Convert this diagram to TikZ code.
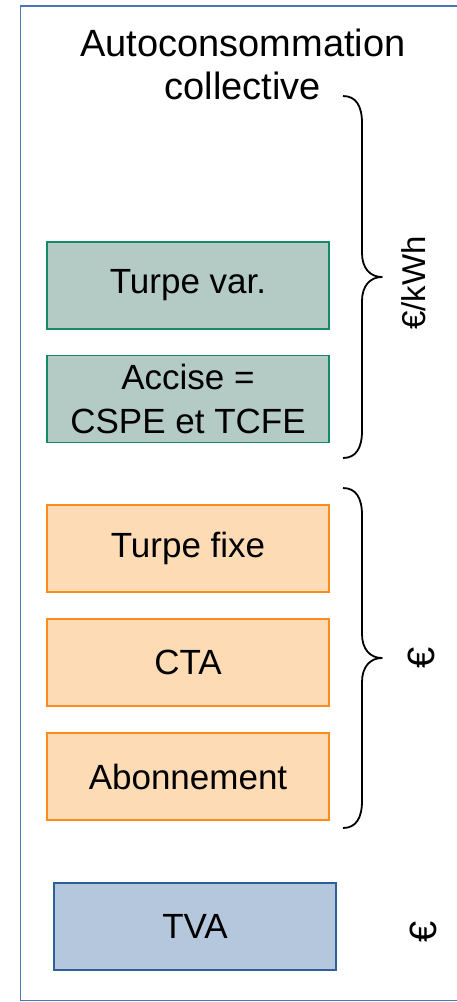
\documentclass[tikz,border=0pt]{standalone}
\usepackage{fontspec}
\setmainfont{Liberation Sans}
\definecolor{grfill}{HTML}{B4CBC5}
\definecolor{grline}{HTML}{168A66}
\definecolor{orfill}{HTML}{FDDBB5}
\definecolor{orline}{HTML}{FA8C1E}
\definecolor{blfill}{HTML}{B4C7DD}
\definecolor{blline}{HTML}{2F5F98}
\definecolor{frame}{HTML}{4A76B8}
\tikzset{
  costbox/.style={draw, line width=1.8pt, minimum width=282pt, minimum height=87pt, inner sep=0pt, align=center, font=\fontsize{35}{44}\selectfont},
  greenbox/.style={costbox, fill=grfill, draw=grline},
  orangebox/.style={costbox, fill=orfill, draw=orline},
  bluebox/.style={costbox, fill=blfill, draw=blline},
  brace/.style={draw, line width=1.8pt, line join=round},
  unitlabel/.style={rotate=90, font=\fontsize{33}{36}\selectfont},
  eurolabel/.style={rotate=90, font=\fontsize{38}{40}\selectfont}
}
\begin{document}
\begin{tikzpicture}[x=1pt, y=-1pt]
\useasboundingbox (0,0) rectangle (457,1002);
\begin{scope}
\clip (0,0) rectangle (457,1002);
\draw[frame, line width=1.5pt] (480,6) -- (20.5,6) -- (20.5,1000.5) -- (480,1000.5);
\end{scope}
\node[align=center, font=\fontsize{38}{43}\selectfont] (title) at (243,64) {Autoconsommation\\collective};
\node[greenbox] (turpevar) at (188,285.5) {Turpe var.};
\node[greenbox] (accise) at (188,399) {Accise =\\CSPE et TCFE};
\node[orangebox] (turpefixe) at (188,548.5) {Turpe fixe};
\node[orangebox] (cta) at (188,662.5) {CTA};
\node[orangebox] (abo) at (188,776.5) {Abonnement};
\node[bluebox] (tva) at (195,926.5) {TVA};
% braces
\draw[brace] (343,96) .. controls (356,96) and (362,106) .. (362,123) -- (362,253)
  .. controls (362,268) and (370,277) .. (382,277)
  .. controls (370,277) and (362,286) .. (362,301) -- (362,431)
  .. controls (362,448) and (356,458) .. (343,458);
\draw[brace] (343,488) .. controls (356,488) and (362,498) .. (362,515) -- (362,634)
  .. controls (362,649) and (370,658) .. (382,658)
  .. controls (370,658) and (362,667) .. (362,682) -- (362,801)
  .. controls (362,818) and (356,828) .. (343,828);
\node[unitlabel] (kwh) at (414,283) {€/kWh};
\node[eurolabel] (eur1) at (421,658) {€};
\node[eurolabel] (eur2) at (423,932) {€};
\end{tikzpicture}
\end{document}
